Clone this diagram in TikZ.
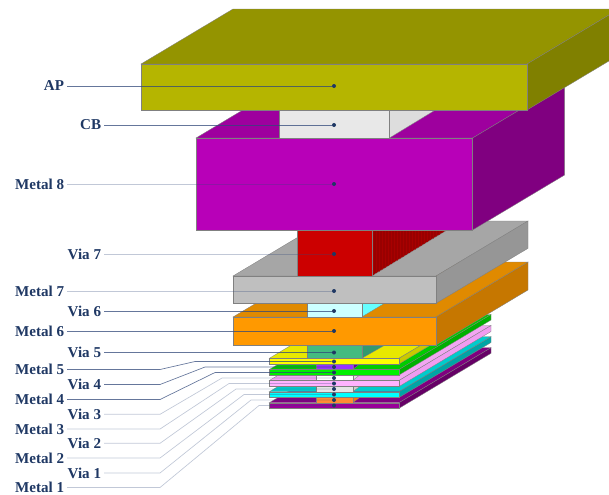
\documentclass[tikz,border=0pt]{standalone}
\usepackage{fontspec}
\setmainfont{Liberation Serif}
\definecolor{navy}{HTML}{1F3864}
\definecolor{leadcol}{HTML}{31487A}
\definecolor{redside}{HTML}{990000}
\definecolor{redstripe}{HTML}{A80000}
\definecolor{redfront}{HTML}{CC0000}
\newcommand{\layerbox}[7]{%
  % x0 x1 ytop ybot top front side
  \definecolor{ctop}{HTML}{#5}\definecolor{cfront}{HTML}{#6}\definecolor{cside}{HTML}{#7}%
  \filldraw[edge,fill=ctop] (#1,#3) -- (#1+92,#3-55) -- (#2+92,#3-55) -- (#2,#3) -- cycle;
  \filldraw[edge,fill=cside] (#2,#3) -- (#2+92,#3-55) -- (#2+92,#4-55) -- (#2,#4) -- cycle;
  \filldraw[edge,fill=cfront] (#1,#3) rectangle (#2,#4);
}
\newcommand{\viabox}[8]{%
  % x0 x1 ytop ybot dx dy front side
  \definecolor{cfront}{HTML}{#7}\definecolor{cside}{HTML}{#8}%
  \filldraw[edge,fill=cside] (#2,#4) -- (#2+#5,#4-#6) -- (#2,#4-#6) -- cycle;
  \filldraw[edge,fill=cfront] (#1,#3) rectangle (#2,#4);
}
\tikzset{
  edge/.style={draw=black!50,line width=0.25pt},
  lab/.style={anchor=east,inner sep=2pt,text=navy,font=\fontsize{11.3}{12}\selectfont\bfseries},
  dot/.style={circle,fill=navy,inner sep=0pt,minimum size=3pt},
  leader/.style={draw=leadcol,line width=0.5pt,draw opacity=0.75},
  faint/.style={draw=leadcol,line width=0.5pt,draw opacity=0.3},
}
\begin{document}
\begin{tikzpicture}[x=0.75pt,y=-0.75pt]
\useasboundingbox (0,0) rectangle (609,494);
\clip (0,0) rectangle (609,494);
% lower stack, bottom to top
\layerbox{269.3}{399}{402.7}{408.3}{800080}{990099}{660066}
\viabox{316}{352.7}{397.5}{402.7}{7}{5.2}{FF8C33}{FF7700}
\layerbox{269.3}{399}{391.7}{397.5}{00CCCC}{00FFFF}{00A5A5}
\viabox{316}{352.7}{386.5}{391.7}{7}{5.2}{E5E5E5}{D0D0D0}
\layerbox{269.3}{399}{380.5}{386.5}{F2A6F2}{FFB3FF}{F09CF0}
\viabox{316}{352.7}{375}{380.5}{7}{5.5}{FFFFFF}{E0E0E0}
\layerbox{269.3}{399}{369.5}{375}{00CC00}{00F000}{00B000}
\viabox{316}{352.7}{364}{369.5}{7}{5.5}{9933FF}{6600AA}
\layerbox{269.3}{399}{358.3}{364}{E8E800}{FFFF00}{C9C900}
\viabox{306.7}{361.7}{345}{358.3}{23.3}{13.3}{44BB80}{339970}
\layerbox{233}{436}{317}{345}{E08A00}{FF9900}{C67700}
\viabox{306.7}{361.7}{303}{317}{23.3}{14}{CCFFFF}{66FFFF}
\layerbox{233}{436}{276}{303.3}{A6A6A6}{BFBFBF}{969696}
% Via 7
\filldraw[edge,fill=redside] (371.7,276) -- (447,230) -- (371.7,230) -- cycle;
\begin{scope}
  \clip (371.7,276) -- (447,230) -- (371.7,230) -- cycle;
  \foreach \sx in {373,376,...,448} \draw[redstripe,line width=0.7pt] (\sx,225) -- (\sx,280);
\end{scope}
\filldraw[edge,fill=redfront] (297.3,230) rectangle (371.7,276);
% upper stack
\layerbox{196}{472.6}{138}{230}{9E009E}{B800B8}{800080}
\viabox{279.3}{389.3}{105}{138}{46}{28}{E8E8E8}{DDDDDD}
\layerbox{141}{527}{64}{110}{949400}{B5B500}{808000}
% labels
\node[lab] (lap) at (67,86) {AP};
\node[lab] (lcb) at (104,125) {CB};
\node[lab] (lm8) at (67,184) {Metal 8};
\node[lab] (lv7) at (104,254) {Via 7};
\node[lab] (lm7) at (67,291) {Metal 7};
\node[lab] (lv6) at (104,311) {Via 6};
\node[lab] (lm6) at (67,331) {Metal 6};
\node[lab] (lv5) at (104,352.5) {Via 5};
\node[lab] (lm5) at (67,369.5) {Metal 5};
\node[lab] (lv4) at (104,384.5) {Via 4};
\node[lab] (lm4) at (67,399.5) {Metal 4};
\node[lab] (lv3) at (104,414.3) {Via 3};
\node[lab] (lm3) at (67,429) {Metal 3};
\node[lab] (lv2) at (104,443.3) {Via 2};
\node[lab] (lm2) at (67,458) {Metal 2};
\node[lab] (lv1) at (104,473) {Via 1};
\node[lab] (lm1) at (67,487.5) {Metal 1};
% dots
\node[dot] (dap) at (334,86) {};
\node[dot] (dcb) at (334,125) {};
\node[dot] (dm8) at (334,184) {};
\node[dot] (dv7) at (334,254) {};
\node[dot] (dm7) at (334,291) {};
\node[dot] (dv6) at (334,311) {};
\node[dot] (dm6) at (334,331) {};
\node[dot] (dv5) at (334,352.5) {};
\node[dot] (dm5) at (334,361.5) {};
\node[dot] (dv4) at (334,367) {};
\node[dot] (dm4) at (334,372.5) {};
\node[dot] (dv3) at (334,378) {};
\node[dot] (dm3) at (334,383.5) {};
\node[dot] (dv2) at (334,389) {};
\node[dot] (dm2) at (334,394.5) {};
\node[dot] (dv1) at (334,400) {};
\node[dot] (dm1) at (334,405.5) {};
% elbows
\coordinate (a5) at (160,369.5);  \coordinate (b5) at (195,361.5);
\coordinate (a4) at (160,384.5);  \coordinate (b4) at (205,367);
\coordinate (c4) at (160,399.5);  \coordinate (e4) at (215,372.5);
\coordinate (a3) at (160,414.3);  \coordinate (b3) at (222,378);
\coordinate (c3) at (160,429);    \coordinate (e3) at (229,383.5);
\coordinate (a2) at (160,443.3);  \coordinate (b2) at (236,389);
\coordinate (c2) at (160,458);    \coordinate (e2) at (244,394.5);
\coordinate (a1) at (160,473);    \coordinate (b1) at (251,400);
\coordinate (c1) at (160,487.5);  \coordinate (e1) at (259,405.5);
% connectors
\draw[leader] (lap.east) -- (dap);
\draw[leader] (lcb.east) -- (dcb);
\draw[faint] (lm8.east) -- (dm8);
\draw[faint] (lv7.east) -- (dv7);
\draw[faint] (lm7.east) -- (dm7);
\draw[leader] (lv6.east) -- (dv6);
\draw[leader] (lm6.east) -- (dm6);
\draw[leader] (lv5.east) -- (dv5);
\draw[leader] (lm5.east) -- (a5) -- (b5) -- (dm5);
\draw[leader] (lv4.east) -- (a4) -- (b4) -- (dv4);
\draw[leader] (lm4.east) -- (c4) -- (e4) -- (dm4);
\draw[faint] (lv3.east) -- (a3) -- (b3) -- (dv3);
\draw[faint] (lm3.east) -- (c3) -- (e3) -- (dm3);
\draw[faint] (lv2.east) -- (a2) -- (b2) -- (dv2);
\draw[faint] (lm2.east) -- (c2) -- (e2) -- (dm2);
\draw[faint] (lv1.east) -- (a1) -- (b1) -- (dv1);
\draw[faint] (lm1.east) -- (c1) -- (e1) -- (dm1);
\end{tikzpicture}
\end{document}
